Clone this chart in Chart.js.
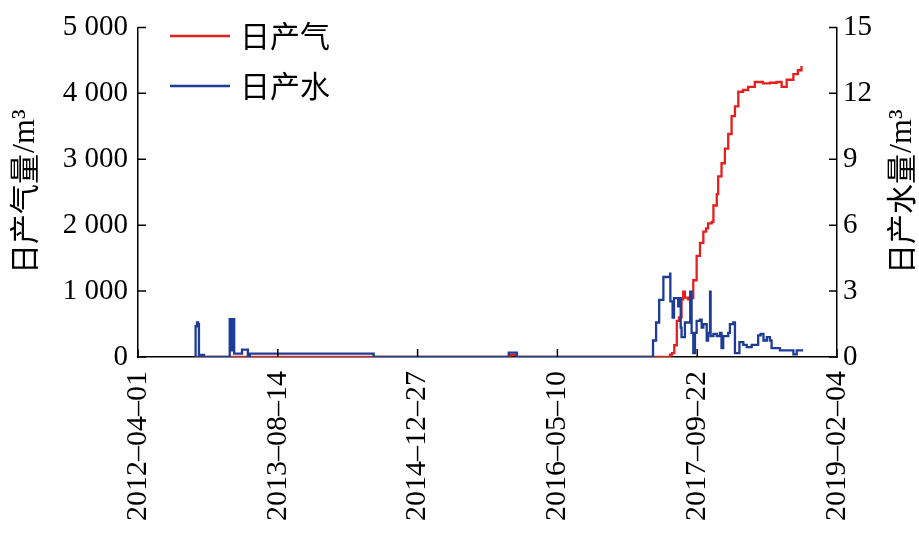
<!DOCTYPE html>
<html>
<head>
<meta charset="utf-8">
<script src="https://cdn.jsdelivr.net/npm/chart.js@4.4.1/dist/chart.umd.min.js"></script>
<style>
  html, body { margin: 0; padding: 0; background: #fff; }
  #box { width: 919px; height: 534px; }
</style>
</head>
<body>
<div id="box"><canvas id="grafico"></canvas></div>
<script>
// Dias contados a partir de 2012-04-01
const diaInicial = Date.UTC(2012, 3, 1);
const marcasX = [0, 500, 1000, 1500, 2000, 2500];

// 日产气 (m3) - eixo esquerdo
const gasDias = [204, 842, 1323, 1330, 1348, 1355, 1842, 1900, 1903, 1910, 1918, 1927, 1935, 1944, 1950, 1956, 1967, 1974, 1985, 1986, 1998, 2010, 2022, 2032, 2039, 2052, 2058, 2070, 2075, 2087, 2099, 2111, 2123, 2135, 2147, 2164, 2182, 2206, 2235, 2260, 2284, 2302, 2320, 2344, 2360, 2373];
const gasValores = [0, 0, 0, 30, 30, 0, 0, 0, 35, 60, 178, 547, 600, 873, 991, 900, 874, 892, 892, 1164, 1534, 1731, 1903, 1950, 2027, 2050, 2298, 2470, 2741, 2939, 3161, 3383, 3654, 3802, 4024, 4050, 4098, 4172, 4150, 4160, 4172, 4098, 4206, 4290, 4350, 4413];

// 日产水 (m3) - eixo direito
const aguaDias = [204, 206, 211, 215, 218, 224, 232, 236, 327, 328, 333, 334, 338, 342, 344, 365, 372, 380, 393, 400, 842, 843, 1323, 1326, 1352, 1355, 1841, 1842, 1853, 1863, 1864, 1873, 1879, 1903, 1904, 1912, 1917, 1927, 1932, 1938, 1941, 1944, 1956, 1974, 1975, 1980, 1986, 1992, 1998, 2010, 2016, 2022, 2034, 2039, 2046, 2048, 2058, 2070, 2081, 2087, 2093, 2111, 2117, 2129, 2135, 2147, 2151, 2165, 2177, 2195, 2213, 2218, 2227, 2237, 2249, 2260, 2266, 2296, 2332, 2344, 2356, 2379];
const aguaValores = [0, 1.4, 1.58, 1.5, 0.05, 0.09, 0.1, 0, 0, 1.72, 1.72, 0.3, 1.72, 1.72, 0.15, 0.15, 0.34, 0.34, 0.05, 0.15, 0.15, 0, 0, 0.2, 0.2, 0, 0, 0.75, 1.57, 1.57, 2.6, 2.6, 3.64, 3.79, 2.53, 1.79, 2.68, 2.68, 2.3, 2.68, 1.34, 0.9, 1.57, 1.57, 2.97, 1.1, 0.18, 1.1, 1.64, 1.7, 1.34, 1.5, 0.75, 1.1, 2.97, 0.95, 1.05, 0.95, 1.1, 0.4, 0.95, 1.1, 1.5, 1.57, 0.18, 0.18, 0.68, 0.55, 0.45, 0.55, 0.55, 0.98, 1.05, 0.75, 0.9, 0.75, 0.4, 0.3, 0.3, 0.12, 0.3, 0.3];

const corGas = '#e61e1e';
const corAgua = '#1e3c96';
const fonteNum = '"Liberation Serif", "Times New Roman", serif';
const fonteCJK = '"Noto Sans CJK SC", sans-serif';

function pontos(dias, valores) {
    return dias.map((d, i) => ({ x: d, y: valores[i] }));
}

function formatarData(dia) {
    const data = new Date(diaInicial + dia * 86400000);
    return data.toISOString().slice(0, 10).replace(/-/g, '\u2013');
}

function formatarMilhar(v) {
    if (v < 1000) return String(v);
    return Math.floor(v / 1000) + ' ' + String(v % 1000).padStart(3, '0');
}

// Marcas dos eixos voltadas para dentro, títulos e legenda
const pluginDesenho = {
    id: 'desenho',
    afterDraw(chart) {
        const ctx = chart.ctx;
        const area = chart.chartArea;
        const sx = chart.scales.x, sy = chart.scales.y, sy1 = chart.scales.y1;
        ctx.save();
        ctx.strokeStyle = '#000';
        ctx.lineWidth = 1.5;
        ctx.beginPath();
        marcasX.forEach(v => {
            const px = sx.getPixelForValue(v);
            ctx.moveTo(px, area.bottom);
            ctx.lineTo(px, area.bottom - 8);
        });
        sy.ticks.forEach(t => {
            const py = sy.getPixelForValue(t.value);
            ctx.moveTo(area.left, py);
            ctx.lineTo(area.left + 8, py);
        });
        sy1.ticks.forEach(t => {
            const py = sy1.getPixelForValue(t.value);
            ctx.moveTo(area.right, py);
            ctx.lineTo(area.right - 8, py);
        });
        ctx.stroke();

        // títulos dos eixos
        function titulo(cx, cy, texto) {
            ctx.save();
            ctx.translate(cx, cy);
            ctx.rotate(-Math.PI / 2);
            ctx.fillStyle = '#000';
            ctx.textBaseline = 'middle';
            ctx.textAlign = 'left';
            ctx.font = '30px ' + fonteCJK;
            const w1 = ctx.measureText(texto).width;
            ctx.font = '32px ' + fonteNum;
            const w2 = ctx.measureText('/m\u00b3').width;
            const ini = -(w1 + w2) / 2;
            ctx.font = '30px ' + fonteCJK;
            ctx.fillText(texto, ini, 0);
            ctx.font = '32px ' + fonteNum;
            ctx.fillText('/m\u00b3', ini + w1 + 1, 2);
            ctx.restore();
        }
        const meio = (area.top + area.bottom) / 2;
        titulo(24, meio, '日产气量');
        titulo(901, meio, '日产水量');

        // legenda
        const itens = [[corGas, '日产气', 36], [corAgua, '日产水', 86]];
        ctx.font = '30px ' + fonteCJK;
        ctx.textBaseline = 'middle';
        ctx.textAlign = 'left';
        itens.forEach(([cor, texto, y]) => {
            ctx.strokeStyle = cor;
            ctx.lineWidth = 2.5;
            ctx.beginPath();
            ctx.moveTo(170, y);
            ctx.lineTo(230, y);
            ctx.stroke();
            ctx.fillStyle = '#000';
            ctx.fillText(texto, 240, y);
        });
        ctx.restore();
    }
};

const config = {
    type: 'line',
    data: {
        datasets: [
            {
                label: '日产气',
                data: pontos(gasDias, gasValores),
                borderColor: corGas,
                borderWidth: 2.3,
                pointRadius: 0,
                stepped: true,
                yAxisID: 'y',
                order: 1
            },
            {
                label: '日产水',
                data: pontos(aguaDias, aguaValores),
                borderColor: corAgua,
                borderWidth: 2.3,
                pointRadius: 0,
                stepped: true,
                yAxisID: 'y1',
                order: 0
            }
        ]
    },
    options: {
        responsive: true,
        maintainAspectRatio: false,
        animation: false,
        layout: { padding: { top: 19, left: 0, right: 0, bottom: 0 } },
        plugins: {
            legend: { display: false },
            tooltip: { enabled: false }
        },
        scales: {
            x: {
                type: 'linear',
                min: 0,
                max: 2500,
                afterBuildTicks: (s) => { s.ticks = marcasX.map(v => ({ value: v })); },
                afterFit: (s) => { s.height = 177; },
                grid: { display: false, drawTicks: false },
                border: { display: true, color: '#000', width: 1.5 },
                ticks: {
                    minRotation: 90,
                    maxRotation: 90,
                    padding: 14,
                    color: '#000',
                    font: { family: fonteNum, size: 30 },
                    callback: (v) => formatarData(v)
                }
            },
            y: {
                position: 'left',
                min: 0,
                max: 5000,
                afterFit: (s) => { s.width = 138; },
                grid: { display: false, drawTicks: false },
                border: { display: true, color: '#000', width: 1.5 },
                ticks: {
                    stepSize: 1000,
                    padding: 10,
                    color: '#000',
                    font: { family: fonteNum, size: 29 },
                    callback: (v) => formatarMilhar(v)
                }
            },
            y1: {
                position: 'right',
                min: 0,
                max: 15,
                afterFit: (s) => { s.width = 82; },
                grid: { display: false, drawTicks: false },
                border: { display: true, color: '#000', width: 1.5 },
                ticks: {
                    stepSize: 3,
                    padding: 6,
                    color: '#000',
                    font: { family: fonteNum, size: 29 }
                }
            }
        }
    },
    plugins: [pluginDesenho]
};

let meuGrafico = new Chart(document.getElementById('grafico'), config);
</script>
</body>
</html>
